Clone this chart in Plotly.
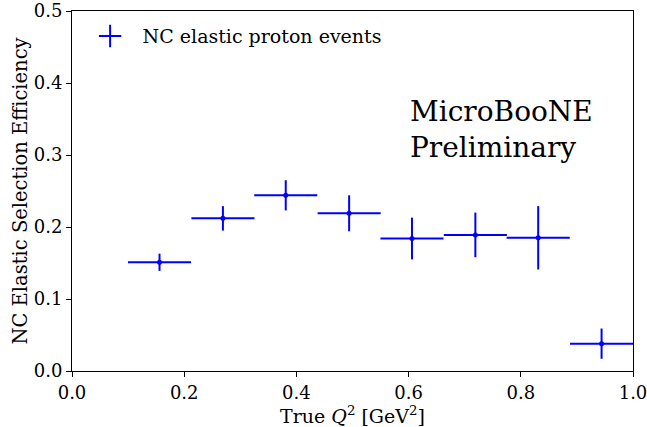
import plotly.graph_objects as go

bin_edges = [0.1, 0.2125, 0.325, 0.4375, 0.55, 0.6625, 0.775, 0.8875, 1.0]
q2_centers = [0.156, 0.269, 0.381, 0.494, 0.606, 0.719, 0.831, 0.944]
efficiency = [0.151, 0.212, 0.244, 0.219, 0.184, 0.189, 0.185, 0.038]
eff_err = [0.012, 0.017, 0.021, 0.025, 0.029, 0.031, 0.044, 0.021]

x_err = [(bin_edges[i + 1] - bin_edges[i]) / 2 for i in range(len(q2_centers))]

FONT = "DejaVu Serif"
BLUE = "#0000ff"

fig = go.Figure()
fig.add_trace(go.Scatter(
    x=q2_centers, y=efficiency, mode="markers",
    marker=dict(color=BLUE, size=5),
    error_x=dict(type="data", array=x_err, color=BLUE, thickness=2, width=0),
    error_y=dict(type="data", array=eff_err, color=BLUE, thickness=2, width=0),
    showlegend=False,
))
# legend proxy
fig.add_trace(go.Scatter(
    x=[None], y=[None], mode="markers", name="NC elastic proton events",
    marker=dict(symbol="cross-thin-open", size=22, color=BLUE, line=dict(color=BLUE, width=2)),
))

fig.add_annotation(
    x=0.599, y=0.67, xref="paper", yref="paper", xanchor="left", yanchor="middle",
    text="MicroBooNE<br>Preliminary", showarrow=False, align="left",
    font=dict(family=FONT, size=28, color="black"),
)

axis_common = dict(
    showgrid=False, zeroline=False, showline=True, linecolor="black", linewidth=1,
    mirror=True, ticks="outside", ticklen=5, tickcolor="black", automargin=False,
    ticklabeloverflow="allow",
    tickfont=dict(family=FONT, size=18, color="black"),
)
fig.update_xaxes(range=[0, 1.0], tickvals=[0, 0.2, 0.4, 0.6, 0.8, 1.0],
                 ticktext=["0.0", "0.2", "0.4", "0.6", "0.8", "1.0"],
                 title=dict(text="True <i>Q</i><sup>2</sup> [GeV<sup>2</sup>]", standoff=2,
                            font=dict(family=FONT, size=19, color="black")),
                 **axis_common)
fig.update_yaxes(range=[0, 0.5], tickvals=[0, 0.1, 0.2, 0.3, 0.4, 0.5],
                 ticktext=["0.0", "0.1", "0.2", "0.3", "0.4", "0.5"],
                 title=dict(text="NC Elastic Selection Efficiency", standoff=0,
                            font=dict(family=FONT, size=19.5, color="black")),
                 **axis_common)

fig.update_layout(
    width=647, height=427,
    margin=dict(l=72, r=14, t=11, b=56),
    plot_bgcolor="white", paper_bgcolor="white",
    font=dict(family=FONT, color="black"),
    legend=dict(x=0.01, y=0.93, xanchor="left", yanchor="middle", itemwidth=55,
                font=dict(family=FONT, size=19, color="black"),
                bgcolor="rgba(255,255,255,0)"),
)

fig.write_html("out.html", config={"displayModeBar": False},
               post_script="document.body.style.margin='0';document.body.style.overflow='hidden';")
